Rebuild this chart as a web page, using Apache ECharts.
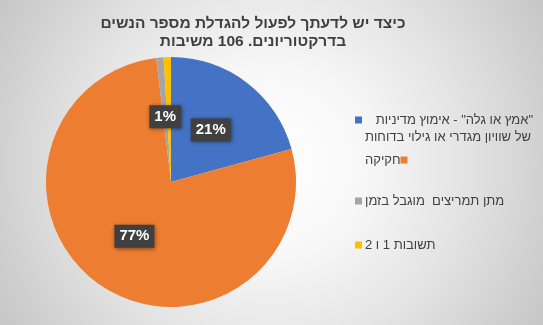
<!DOCTYPE html>
<html><head><meta charset="utf-8">
<script src="https://cdn.jsdelivr.net/npm/echarts@6/dist/echarts.min.js"></script>
<style>
html,body{margin:0;padding:0;}
#c{width:543px;height:325px;direction:rtl;background:radial-gradient(circle at 50% 50%,#ffffff 0%,#f7f7f7 30%,#e3e3e3 62%,#c6c6c6 100%);}
</style>
</head><body><div id="c"></div>
<script>
const titleLines = ['כיצד יש לדעתך לפעול להגדלת מספר הנשים', 'בדרקטוריונים. 106 משיבות'];
const categories = ['"אמץ או גלה" - אימוץ מדיניות של שוויון מגדרי או גילוי בדוחות', 'חקיקה', 'מתן תמריצים  מוגבל בזמן', 'תשובות 1 ו 2'];
const legendLines = [['"אמץ או גלה" - אימוץ מדיניות', 'של שוויון מגדרי או גילוי בדוחות'], ['חקיקה'], ['מתן תמריצים  מוגבל בזמן'], ['תשובות 1 ו 2']];
const values = [22, 82, 1, 1];
const colors = ['#4472C4', '#ED7D31', '#A5A5A5', '#FFC000'];

const FONT = "'Liberation Sans', Arial, sans-serif";
const TXT = '#404040';
const legendTops = [111.5, 151.5, 192.5, 236.5];

const rich = {
  r: { width: 171, align: 'right', fontSize: 13, lineHeight: 17, color: TXT, fontFamily: FONT },
  t: { fontSize: 13, lineHeight: 17, color: TXT, fontFamily: FONT },
  p: { width: 10, lineHeight: 17 },
  g: { width: 3, lineHeight: 17 }
};
colors.forEach((c, i) => { rich['m' + i] = { width: 7, height: 7, backgroundColor: c, verticalAlign: 'middle' }; });

function legendFormatter(name) {
  const i = categories.indexOf(name);
  const L = legendLines[i];
  if (i === 0) return '{m0|}{r|' + L[0] + '}\n{p|}{t|' + L[1] + '}';
  if (i === 1) return '{p|}{t|' + L[0] + '}{m1|}';
  return '{m' + i + '|}{g|}{t|' + L[0] + '}';
}

const chart = echarts.init(document.getElementById('c'), null, { renderer: 'canvas' });
chart.setOption({
  backgroundColor: 'transparent',
  color: colors,
  animation: false,
  title: {
    text: titleLines.join('\n'),
    left: 253, top: 14, padding: 0, textAlign: 'center',
    textStyle: { fontSize: 15.5, fontWeight: 'bold', color: '#3f3f3f', lineHeight: 18.5, fontFamily: FONT }
  },
  legend: categories.map((name, i) => ({
    data: [name],
    orient: 'vertical',
    left: 350, top: legendTops[i], padding: 0,
    itemWidth: 0, itemHeight: 7, icon: 'rect',
    selectedMode: false,
    formatter: legendFormatter,
    textStyle: { fontSize: 13, lineHeight: 17, color: TXT, fontFamily: FONT, rich: rich }
  })),
  series: [{
    type: 'pie',
    center: [171, 182],
    radius: 125,
    startAngle: 90,
    clockwise: true,
    avoidLabelOverlap: false,
    emphasis: { disabled: true },
    itemStyle: { borderWidth: 0 },
    label: {
      position: 'inside',
      formatter: p => Math.round(p.percent) + '%',
      color: '#ffffff', fontSize: 15, fontWeight: 'bold', fontFamily: FONT, lineHeight: 15,
      backgroundColor: '#404040', padding: [4, 5, 4, 5],
      shadowBlur: 4, shadowColor: 'rgba(0,0,0,0.45)', shadowOffsetX: 1, shadowOffsetY: 1
    },
    labelLine: { show: false },
    data: categories.map((name, i) => ({ name: name, value: values[i], label: { show: i < 3 } }))
  }]
});
</script>
</body></html>
